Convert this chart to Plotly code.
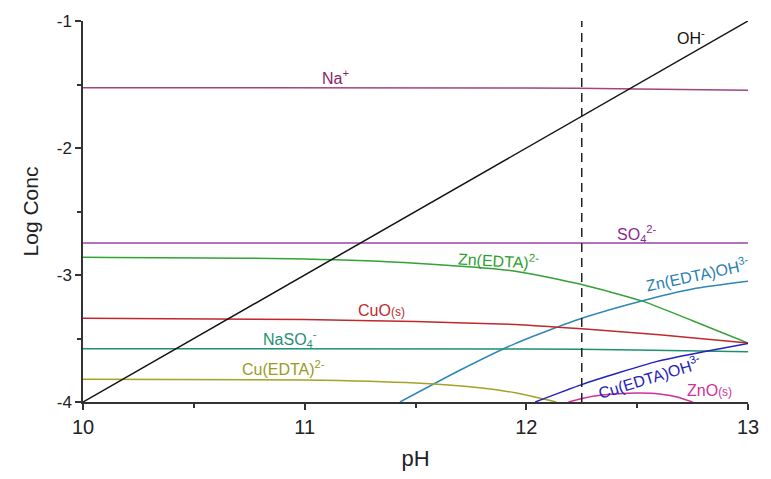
import plotly.graph_objects as go

# ---- data ----
oh_ph = [10, 13]
oh_log = [-4, -1]

na_ph = [10, 12, 12.5, 13]
na_log = [-1.525, -1.527, -1.535, -1.545]

so4_ph = [10, 13]
so4_log = [-2.748, -2.748]

naso4_ph = [10, 12, 12.5, 13]
naso4_log = [-3.58, -3.583, -3.59, -3.605]

cuo_ph = [10, 11, 11.5, 11.95, 12.25, 12.6, 13]
cuo_log = [-3.341, -3.35, -3.367, -3.39, -3.424, -3.47, -3.535]

znedta_ph = [10, 11, 11.5, 11.95, 12.25, 12.52, 12.75, 13]
znedta_log = [-2.86, -2.874, -2.907, -2.97, -3.075, -3.204, -3.36, -3.535]

znedtaoh_ph = [11.43, 11.7, 11.95, 12.25, 12.52, 12.75, 13]
znedtaoh_log = [-4, -3.75, -3.54, -3.341, -3.204, -3.11, -3.05]

cuedta_ph = [10, 11, 11.5, 11.8, 11.95, 12.135]
cuedta_log = [-3.82, -3.826, -3.85, -3.89, -3.928, -4]

cuedtaoh_ph = [12.04, 12.25, 12.59, 12.8, 13]
cuedtaoh_log = [-4, -3.863, -3.68, -3.605, -3.54]

zno_ph = [12.19, 12.3, 12.4, 12.51, 12.6, 12.68, 12.75]
zno_log = [-4, -3.955, -3.937, -3.93, -3.937, -3.96, -4]

dash_ph = 12.25

x_ticks = [10, 11, 12, 13]
x_ticktext = ["10", "11", "12", "13"]
y_ticks = [-1, -2, -3, -4]
y_ticktext = ["-1", "-2", "-3", "-4"]

# label text, x, y, angle, color
labels = [
    ("Na<sup>+</sup>", 11.137, -1.442, 0, "#8b1f6a"),
    ("OH<sup>-</sup>", 12.745, -1.125, 0, "#111111"),
    ("SO<sub>4</sub><sup>2-</sup>", 12.501, -2.674, 0, "#8b2b8f"),
    ("Zn(EDTA)<sup>2-</sup>", 11.875, -2.884, 3, "#2e9e2e"),
    ("Zn(EDTA)OH<sup>3-</sup>", 12.773, -2.992, -12, "#2a7fb0"),
    ("CuO<span style='font-size:12px'>(s)</span>", 11.346, -3.279, 0, "#c0282d"),
    ("NaSO<sub>4</sub><sup>-</sup>", 10.932, -3.504, 0, "#1e9070"),
    ("Cu(EDTA)<sup>2-</sup>", 10.905, -3.736, 0, "#9a9a1e"),
    ("Cu(EDTA)OH<sup>3-</sup>", 12.555, -3.80, -17, "#2222bb"),
    ("ZnO<span style='font-size:12px'>(s)</span>", 12.825, -3.907, 0, "#d0309a"),
]

series = [
    (na_ph, na_log, "#a0457f"),
    (so4_ph, so4_log, "#9b45a5"),
    (znedta_ph, znedta_log, "#35a035"),
    (znedtaoh_ph, znedtaoh_log, "#2f86b8"),
    (cuo_ph, cuo_log, "#c0282d"),
    (naso4_ph, naso4_log, "#1e9070"),
    (cuedta_ph, cuedta_log, "#a3a324"),
    (cuedtaoh_ph, cuedtaoh_log, "#2222c0"),
    (zno_ph, zno_log, "#d0309a"),
    (oh_ph, oh_log, "#111111"),
]

fig = go.Figure()
for xs, ys, c in series:
    shape = "spline" if len(xs) > 2 else "linear"
    fig.add_trace(go.Scatter(x=xs, y=ys, mode="lines",
                             line=dict(color=c, width=1.5, shape=shape, smoothing=0.6),
                             showlegend=False, hoverinfo="skip"))

fig.add_trace(go.Scatter(x=[dash_ph, dash_ph], y=[-4, -1], mode="lines",
                         line=dict(color="#222222", width=1.5, dash="9px,6px"),
                         showlegend=False, hoverinfo="skip"))

font = "Liberation Sans, Arial, sans-serif"
for t, x, y, a, c in labels:
    fig.add_annotation(x=x, y=y, text=t, showarrow=False, textangle=a,
                       font=dict(size=16, color=c, family=font))

fig.update_layout(
    width=771, height=479,
    margin=dict(l=83, r=15, t=19, b=73),
    paper_bgcolor="white", plot_bgcolor="white",
    font=dict(family=font, color="#222222"),
    xaxis=dict(range=[10, 13], tickvals=x_ticks, ticktext=x_ticktext,
               ticks="outside", ticklen=6, tickwidth=1.5, tickcolor="#333",
               showline=True, linecolor="#333", linewidth=1.5, showgrid=False, zeroline=False,
               tickfont=dict(size=20, family=font, color="#222"),
               minor=dict(tickvals=[10.5, 11.5, 12.5], ticks="outside", ticklen=4, tickwidth=1.5,
                          tickcolor="#333", showgrid=False),
               title=dict(text="pH", font=dict(size=22, family=font, color="#222"), standoff=14)),
    yaxis=dict(range=[-4, -1], tickvals=y_ticks, ticktext=y_ticktext,
               ticks="outside", ticklen=6, tickwidth=1.5, tickcolor="#333",
               showline=True, linecolor="#333", linewidth=1.5, showgrid=False, zeroline=False,
               tickfont=dict(size=17, family=font, color="#222"),
               minor=dict(tickvals=[-1.5, -2.5, -3.5], ticks="outside", ticklen=4, tickwidth=1.5,
                          tickcolor="#333", showgrid=False),
               title=dict(text="Log Conc", font=dict(size=21, family=font, color="#222"), standoff=12)),
)

fig.write_html("out.html")
